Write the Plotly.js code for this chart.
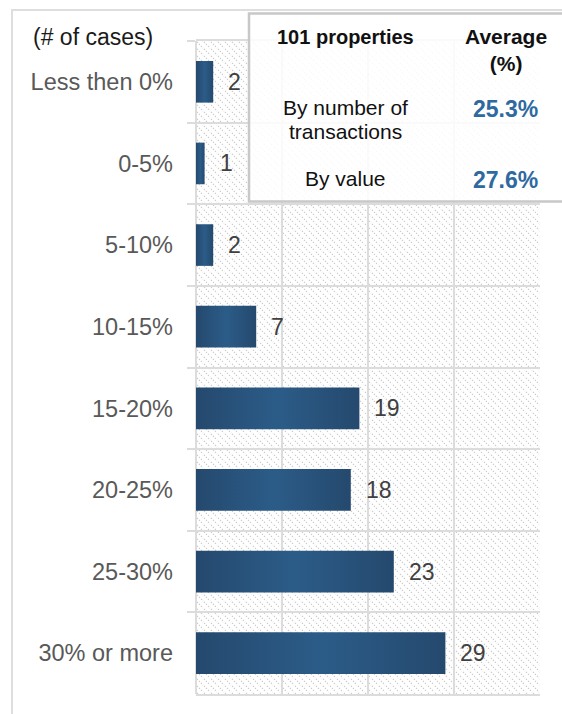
<!DOCTYPE html>
<html>
<head>
<meta charset="utf-8">
<script src="https://cdn.plot.ly/plotly-3.0.1.min.js"></script>
<style>html,body{margin:0;padding:0;background:#fff;}#chart{width:562px;height:714px;}</style>
</head>
<body>
<div id="chart"></div>
<script>
// ---- data ----
const categories = ["Less then 0%", "0-5%", "5-10%", "10-15%", "15-20%", "20-25%", "25-30%", "30% or more"];
const cases = [2, 1, 2, 7, 19, 18, 23, 29];
const unitLabel = "(# of cases)";
const tableHeader = ["101 properties", "Average<br>(%)"];
const tableRows = ["By number of", "By value"];
const tableRowsSub = ["transactions", ""];
const tableValues = ["25.3%", "27.6%"];

// ---- geometry helpers (pixel -> paper) ----
const W = 562, H = 714, L = 196, R = 22, T = 41, B = 20;
const pw = W - L - R, ph = H - T - B;
const px = x => (x - L) / pw;
const py = y => (H - B - y) / ph;

const font = "Liberation Sans, Arial, sans-serif";

const hatchSvg = '<svg xmlns="http://www.w3.org/2000/svg" width="' + pw + '" height="' + ph + '">' +
  '<defs><pattern id="h" width="7" height="7" patternUnits="userSpaceOnUse">' +
  '<path d="M-1,-1 L8,8 M-1,6 L1,8 M6,-1 L8,1" stroke="#c9c9c9" stroke-width="1.1" stroke-dasharray="1.4 1.4"/>' +
  '</pattern></defs><rect width="100%" height="100%" fill="#fff"/><rect width="100%" height="100%" fill="url(#h)"/></svg>';

const trace = {
  type: "bar",
  orientation: "h",
  y: categories,
  x: cases,
  width: 0.51,
  marker: { color: "#285781", line: { width: 0 } },
  hoverinfo: "x+y"
};

const annotations = [];
categories.forEach((c, i) => {
  annotations.push({
    x: cases[i], y: c, xref: "x", yref: "y", text: String(cases[i]),
    showarrow: false, xanchor: "left", yanchor: "middle", xshift: 13,
    font: { family: font, size: 23, color: "#404040" }
  });
});
annotations.push({
  x: px(31), y: py(37), xref: "paper", yref: "paper", text: unitLabel,
  showarrow: false, xanchor: "left", yanchor: "middle",
  font: { family: font, size: 23, color: "#1a1a1a" }
});
annotations.push({
  x: px(345), y: py(37), xref: "paper", yref: "paper", text: "<b>" + tableHeader[0] + "</b>",
  showarrow: false, xanchor: "center", yanchor: "middle",
  font: { family: font, size: 20, color: "#111" }
});
annotations.push({
  x: px(505.5), y: py(50), xref: "paper", yref: "paper", text: "<b>" + tableHeader[1] + "</b>",
  showarrow: false, xanchor: "center", yanchor: "middle", align: "center",
  font: { family: font, size: 21, color: "#111" }
});
const rowY = [108, 179];
tableRows.forEach((r, i) => {
  annotations.push({
    x: px(345), y: py(rowY[i]), xref: "paper", yref: "paper", text: r,
    showarrow: false, xanchor: "center", yanchor: "middle",
    font: { family: font, size: 21, color: "#111" }
  });
  if (tableRowsSub[i]) {
    annotations.push({
      x: px(345), y: py(rowY[i] + 23), xref: "paper", yref: "paper", text: tableRowsSub[i],
      showarrow: false, xanchor: "center", yanchor: "middle",
      font: { family: font, size: 21, color: "#111" }
    });
  }
  annotations.push({
    x: px(505.5), y: py(rowY[i] + 1), xref: "paper", yref: "paper", text: "<b>" + tableValues[i] + "</b>",
    showarrow: false, xanchor: "center", yanchor: "middle",
    font: { family: font, size: 23, color: "#2e69a0" }
  });
});

const layout = {
  width: W, height: H,
  margin: { l: L, r: R, t: T, b: B, pad: 0 },
  paper_bgcolor: "#fff",
  plot_bgcolor: "rgba(0,0,0,0)",
  showlegend: false,
  font: { family: font },
  xaxis: {
    range: [0, 40], dtick: 10, showticklabels: false, ticks: "",
    showgrid: true, gridcolor: "#dcdcdc", gridwidth: 2,
    zeroline: true, zerolinecolor: "#dcdcdc", zerolinewidth: 2,
    showline: true, mirror: true, linecolor: "#dcdcdc", linewidth: 2,
    fixedrange: true
  },
  yaxis: {
    type: "category", categoryorder: "array", categoryarray: categories,
    autorange: "reversed",
    tickson: "boundaries", ticks: "outside", ticklen: 8, tickwidth: 2, tickcolor: "#dcdcdc",
    showgrid: true, gridcolor: "#dcdcdc", gridwidth: 2,
    showline: false,
    ticklabelstandoff: 22,
    tickfont: { family: font, size: 23.5, color: "#595959" },
    fixedrange: true
  },
  images: [{
    source: "data:image/svg+xml;charset=utf-8," + encodeURIComponent(hatchSvg),
    xref: "paper", yref: "paper", x: 0, y: 1, sizex: 1, sizey: 1,
    xanchor: "left", yanchor: "top", sizing: "stretch", layer: "below"
  }],
  shapes: [
    { type: "rect", xref: "paper", yref: "paper", x0: px(12), x1: px(620), y0: py(760), y1: py(10),
      line: { color: "#dedede", width: 2 }, fillcolor: "rgba(0,0,0,0)", layer: "below" },
    { type: "rect", xref: "paper", yref: "paper", x0: px(249), x1: px(620), y0: py(201.5), y1: py(13.5),
      line: { color: "#c8c8c8", width: 2.5 }, fillcolor: "rgba(255,255,255,0.86)", layer: "above" }
  ],
  annotations: annotations
};

Plotly.newPlot("chart", [trace], layout, { staticPlot: true, displayModeBar: false }).then(gd => {
  const svg = gd.querySelector(".main-svg");
  const ns = "http://www.w3.org/2000/svg";
  let defs = svg.querySelector("defs");
  if (!defs) { defs = document.createElementNS(ns, "defs"); svg.insertBefore(defs, svg.firstChild); }
  const g = document.createElementNS(ns, "linearGradient");
  g.setAttribute("id", "barGrad");
  g.setAttribute("x1", "0"); g.setAttribute("y1", "0"); g.setAttribute("x2", "1"); g.setAttribute("y2", "0");
  [["0", "#25496e"], ["0.5", "#2b5c88"], ["1", "#25496e"]].forEach(([o, c]) => {
    const s = document.createElementNS(ns, "stop");
    s.setAttribute("offset", o); s.setAttribute("stop-color", c);
    g.appendChild(s);
  });
  defs.appendChild(g);
  gd.querySelectorAll(".bars path").forEach(p => { p.style.fill = "url(#barGrad)"; });
});
</script>
</body>
</html>
